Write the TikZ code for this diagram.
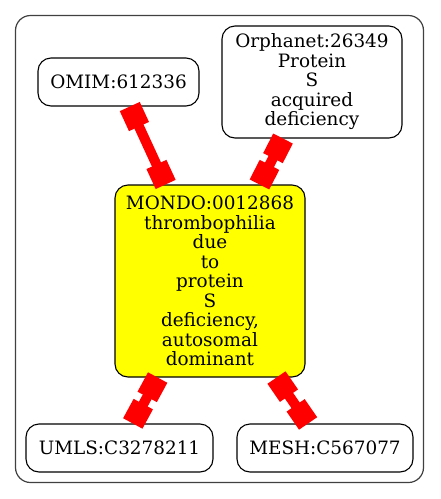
\documentclass[tikz,border=0pt]{standalone}
\usepackage{fontspec}
\setmainfont{DejaVu Serif}
\usetikzlibrary{arrows.meta}
\definecolor{pureyellow}{RGB}{255,255,0}
\definecolor{purered}{RGB}{255,0,0}
\begin{document}
\begin{tikzpicture}[x=1pt,y=-1pt,
  nodebox/.style={draw=black,line width=1.1pt,rounded corners=13pt,align=center,inner sep=0pt,
    font=\fontsize{18.4}{19.5}\selectfont},
  link/.style={draw=purered,line width=10pt,
    {Square[length=22pt,width=22pt]}-{Square[length=22pt,width=22pt]}},
  frame/.style={draw=black!75,line width=1.2pt,rounded corners=15pt}]
\useasboundingbox (0,0) rectangle (440,499);
\draw[frame] (15.5,15.5) rectangle (423.5,482.5);
\node[nodebox,minimum width=161pt,minimum height=48pt] (omim) at (118.5,82) {OMIM:612336};
\node[nodebox,minimum width=180pt,minimum height=112pt] (orph) at (312,82) {Orphanet:26349\\Protein\\S\\acquired\\deficiency};
\node[nodebox,fill=pureyellow,minimum width=190pt,minimum height=192pt] (mondo) at (210,281) {MONDO:0012868\\thrombophilia\\due\\to\\protein\\S\\deficiency,\\autosomal\\dominant};
\node[nodebox,minimum width=187pt,minimum height=48pt] (umls) at (119.5,448) {UMLS:C3278211};
\node[nodebox,minimum width=176pt,minimum height=48pt] (mesh) at (325,448) {MESH:C567077};
\draw[link] (omim) -- (mondo);
\draw[link] (orph) -- (mondo);
\draw[link] (mondo) -- (umls);
\draw[link] (mondo) -- (mesh);
\end{tikzpicture}
\end{document}
